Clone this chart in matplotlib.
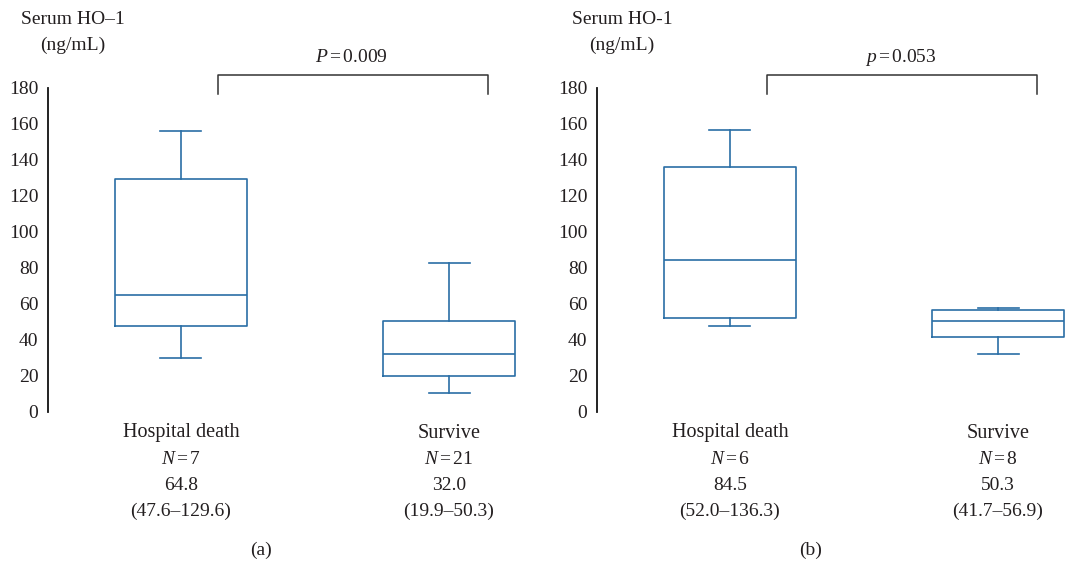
import matplotlib
matplotlib.use("Agg")
import matplotlib.pyplot as plt

plt.rcParams['font.family'] = ['Liberation Serif', 'DejaVu Serif']
plt.rcParams['mathtext.fontset'] = 'custom'
plt.rcParams['mathtext.rm'] = 'Liberation Serif'
plt.rcParams['mathtext.it'] = 'Liberation Serif:italic'

# ---- data ----
groups = ["Hospital death", "Survive"]
yticks = [0, 20, 40, 60, 80, 100, 120, 140, 160, 180]

a_med = [64.8, 32.0]
a_q1 = [47.6, 19.9]
a_q3 = [129.6, 50.3]
a_lo = [30.0, 10.5]
a_hi = [156.0, 83.0]
a_n = [7, 21]
a_iqr = ["(47.6–129.6)", "(19.9–50.3)"]
a_p = r"$P\,$=$\,$0.009"
a_ylabel = ["Serum HO–1", "(ng/mL)"]

b_med = [84.5, 50.3]
b_q1 = [52.0, 41.7]
b_q3 = [136.3, 56.9]
b_lo = [47.8, 32.0]
b_hi = [156.5, 58.0]
b_n = [6, 8]
b_iqr = ["(52.0–136.3)", "(41.7–56.9)"]
b_p = r"$p\,$=$\,$0.053"
b_ylabel = ["Serum HO-1", "(ng/mL)"]

BLUE = '#2a6ea6'
TXT = '#231f20'

W, H = 1079, 563
fig = plt.figure(figsize=(W / 100, H / 100), dpi=100)


def panel(left_px, med, q1, q3, lo, hi, ns, iqrs, ptxt, ylabel, tag):
    ax = fig.add_axes([left_px / W, 151 / H, 482 / W, 324 / H])
    stats = []
    for i in range(len(groups)):
        stats.append(dict(med=med[i], q1=q1[i], q3=q3[i], whislo=lo[i], whishi=hi[i], fliers=[]))
    props = dict(color=BLUE, linewidth=1.2)
    ax.bxp(stats, positions=[1, 2], widths=0.49, capwidths=0.153,
           showfliers=False, boxprops=props, whiskerprops=props,
           capprops=props, medianprops=props)
    ax.set_xlim(0.504, 2.302)
    ax.set_ylim(0, 180)
    ax.set_yticks(yticks)
    ax.set_yticklabels([str(t) for t in yticks])
    ax.set_xticks([])
    for s in ['top', 'right', 'bottom']:
        ax.spines[s].set_visible(False)
    ax.spines['left'].set_color('#111111')
    ax.spines['left'].set_linewidth(1.3)
    ax.tick_params(axis='y', length=0, pad=7, labelsize=14, labelcolor=TXT)
    ax.patch.set_alpha(0)

    # category labels
    for i, x in enumerate([1, 2]):
        lines = [groups[i], r"$N\,$=$\,$" + str(ns[i]), f"{med[i]:.1f}", iqrs[i]]
        for k, line in enumerate(lines):
            ax.annotate(line, xy=(x, 0), xycoords=('data', 'axes fraction'),
                        xytext=(0, -(21 + 26 * k) * 0.72), textcoords='offset points',
                        ha='center', va='center', fontsize=14.5 if k == 0 else 14,
                        color=TXT, annotation_clip=False)
    ax.annotate(tag, xy=(1.3, 0), xycoords=('data', 'axes fraction'),
                xytext=(0, -138 * 0.72), textcoords='offset points',
                ha='center', va='center', fontsize=14, color=TXT, annotation_clip=False)

    # significance bracket
    ax.plot([1.138, 1.138, 2.145, 2.145], [176.7, 187.2, 187.2, 176.7],
            color='#333333', linewidth=1.1, clip_on=False)
    ax.text(1.636, 196.7, ptxt, ha='center', va='center', fontsize=14, color=TXT)

    # y label (two lines)
    for k, (line, up) in enumerate(zip(ylabel, [69, 43])):
        ax.annotate(line, xy=(0, 1), xycoords='axes fraction',
                    xytext=(25 * 0.72, up * 0.72), textcoords='offset points',
                    ha='center', va='center', fontsize=14, color=TXT,
                    annotation_clip=False)
    return ax


panel(48, a_med, a_q1, a_q3, a_lo, a_hi, a_n, a_iqr, a_p, a_ylabel, "(a)")
panel(597, b_med, b_q1, b_q3, b_lo, b_hi, b_n, b_iqr, b_p, b_ylabel, "(b)")

fig.savefig("out.png", dpi=100)
